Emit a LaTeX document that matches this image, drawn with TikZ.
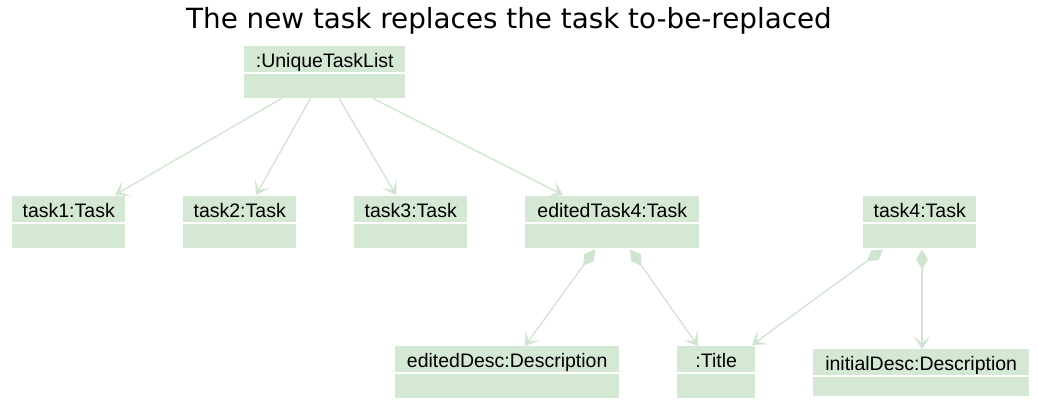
\documentclass[tikz,border=0pt]{standalone}
\usepackage{fontspec}
\setmainfont{Liberation Sans}
\newfontfamily\titlefont{DejaVu Sans}
\usetikzlibrary{arrows.meta,calc}
\definecolor{objfill}{RGB}{213,232,212}
\definecolor{objline}{RGB}{208,229,207}
\begin{document}
\begin{tikzpicture}[x=1pt,y=-1pt,
  obj/.style={fill=objfill, anchor=north west, inner xsep=0pt, inner ysep=4pt,
    text height=17pt, text depth=27pt, font=\fontsize{19.5}{22}\selectfont},
  sep/.style={draw=white, line width=1.3pt},
  headtip/.tip={Stealth[length=13pt,width=17pt,inset=7pt]},
  assoc/.style={draw=objline, line width=1.3pt, -headtip},
  comp/.style={draw=objline, line width=1.3pt, {Diamond[length=20pt,width=12pt]}-headtip}]
\fill[white] (0,0) rectangle (1038,407);
\useasboundingbox (0,0) rectangle (1038,407);

\node (ttl) [font=\titlefont\fontsize{27.8}{33}\selectfont, anchor=base, inner sep=0pt]
  at (509,28) {The new task replaces the task to-be-replaced};

\node (utl) [obj, minimum width=161pt] at (244,46) {:UniqueTaskList};
\node (t1) [obj, minimum width=113pt] at (12,196) {task1:Task};
\node (t2) [obj, minimum width=113pt] at (183,196) {task2:Task};
\node (t3) [obj, minimum width=113pt] at (354,196) {task3:Task};
\node (et4) [obj, minimum width=174pt] at (525,196) {editedTask4:Task};
\node (t4) [obj, minimum width=113pt] at (863,196) {task4:Task};
\node (ed) [obj, minimum width=224pt] at (395,346) {editedDesc:Description};
\node (ti) [obj, minimum width=78pt] at (677,346) {:Title};
\node (id) [obj, minimum width=216pt, text depth=22pt] at (813,349) {initialDesc:Description};

\foreach \n in {utl,t1,t2,t3,et4,t4,ed,ti,id}
  \draw[sep] ($(\n.north west)+(0,27)$) -- ($(\n.north east)+(0,27)$);

\draw[assoc] ($(utl.south west)+(37.5,0)$) -- ($(t1.north west)+(103,-1)$);
\draw[assoc] ($(utl.south west)+(66.5,0)$) -- ($(t2.north west)+(73,-1)$);
\draw[assoc] ($(utl.south west)+(95,0)$) -- ($(t3.north west)+(42,-1)$);
\draw[assoc] ($(utl.south west)+(129,0)$) -- ($(et4.north west)+(38,-1)$);

\draw[comp] ($(et4.south west)+(70,1)$) -- ($(ed.north west)+(130,0)$);
\draw[comp] ($(et4.south west)+(105,1)$) -- ($(ti.north west)+(21,0)$);
\draw[comp] ($(t4.south west)+(20,1)$) -- ($(ti.north west)+(75,-1)$);
\draw[comp] ($(t4.south west)+(59,1)$) -- ($(id.north west)+(109,0)$);
\end{tikzpicture}
\end{document}
